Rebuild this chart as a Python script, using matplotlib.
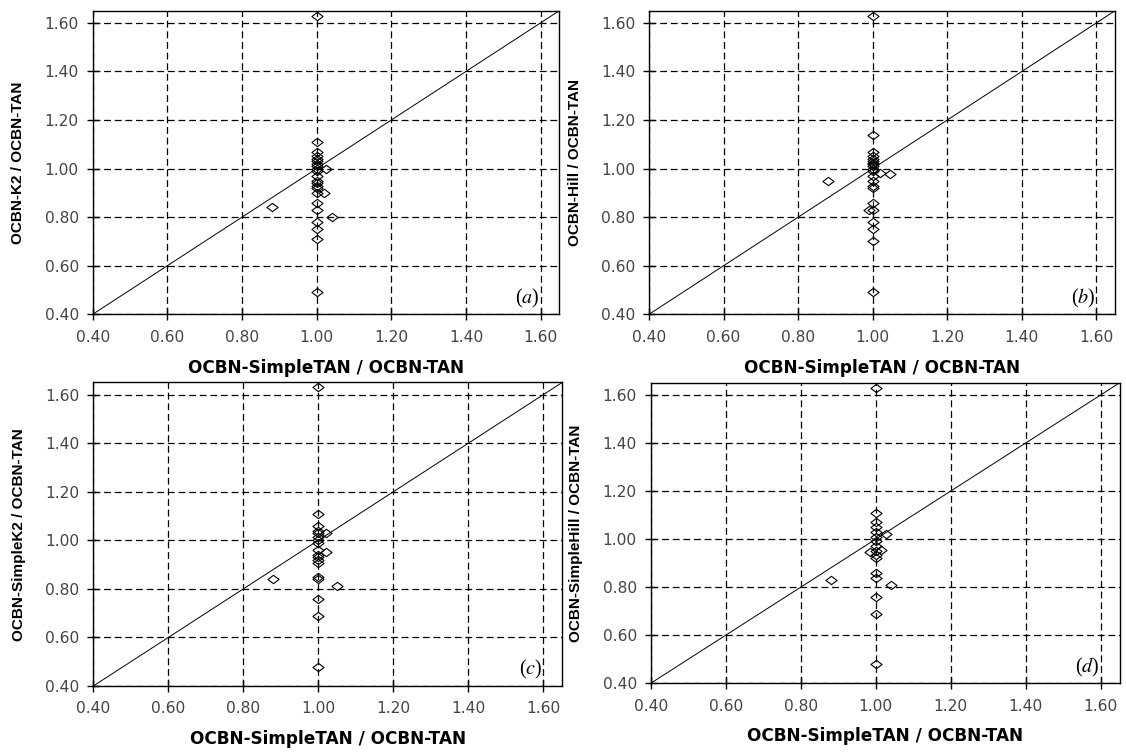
import matplotlib
matplotlib.use("Agg")
import matplotlib.pyplot as plt
from matplotlib.path import Path

plt.rcParams['font.family'] = ['DejaVu Sans']
plt.rcParams['mathtext.fontset'] = 'stix'

# ratio data (x = OCBN-SimpleTAN / OCBN-TAN)
xa = [1.0] * 22 + [0.88, 1.04, 1.025, 1.02]
ya = [1.63, 1.11, 1.07, 1.05, 1.04, 1.03, 1.02, 1.01, 1.00, 0.99, 0.97, 0.95,
      0.94, 0.93, 0.92, 0.90, 0.86, 0.83, 0.78, 0.75, 0.71, 0.49,
      0.84, 0.80, 1.00, 0.90]

xb = [1.0] * 21 + [0.88, 1.047, 1.02, 0.99]
yb = [1.63, 1.14, 1.07, 1.05, 1.04, 1.03, 1.025, 1.02, 1.01, 1.00, 0.99, 0.97,
      0.95, 0.93, 0.92, 0.86, 0.83, 0.78, 0.75, 0.70, 0.49,
      0.95, 0.976, 0.98, 0.83]

xc = [1.0] * 18 + [0.88, 1.05, 1.02, 1.02]
yc = [1.63, 1.11, 1.06, 1.04, 1.03, 1.015, 1.00, 0.99, 0.96, 0.94, 0.93, 0.92,
      0.905, 0.85, 0.84, 0.76, 0.69, 0.48,
      0.84, 0.81, 1.03, 0.95]

xd = [1.0] * 16 + [0.88, 1.04, 1.027, 0.985, 1.015]
yd = [1.63, 1.11, 1.07, 1.05, 1.03, 1.01, 0.99, 0.97, 0.95, 0.935, 0.92, 0.86,
      0.84, 0.76, 0.69, 0.48,
      0.83, 0.81, 1.02, 0.945, 0.955]

ylabels = ['OCBN-K2 / OCBN-TAN', 'OCBN-Hill / OCBN-TAN',
           'OCBN-SimpleK2 / OCBN-TAN', 'OCBN-SimpleHill / OCBN-TAN']
xlabel = 'OCBN-SimpleTAN / OCBN-TAN'
letters = ['a', 'b', 'c', 'd']
ticks = [0.40, 0.60, 0.80, 1.00, 1.20, 1.40, 1.60]

# wide open diamond
diamond = Path([(-1, 0), (0, 0.75), (1, 0), (0, -0.75), (-1, 0)],
               [Path.MOVETO, Path.LINETO, Path.LINETO, Path.LINETO, Path.CLOSEPOLY])

fig = plt.figure(figsize=(11.26, 7.55), dpi=100)
positions = [[0.0823, 0.5837, 0.4144, 0.4021],
             [0.5764, 0.5837, 0.4139, 0.4021],
             [0.0829, 0.0914, 0.4163, 0.4020],
             [0.5779, 0.0950, 0.4165, 0.3980]]
data = [(xa, ya), (xb, yb), (xc, yc), (xd, yd)]

for i, pos in enumerate(positions):
    ax = fig.add_axes(pos)
    x, y = data[i]
    lo, hi = 0.40, 1.65
    ax.plot([lo, hi], [lo, hi], color='black', lw=0.7, zorder=2)
    ax.plot(x, y, linestyle='none', marker=diamond, markersize=8,
            markerfacecolor='none', markeredgecolor='black', markeredgewidth=0.8, zorder=3)
    ax.set_xlim(lo, hi)
    ax.set_ylim(lo, hi)
    ax.set_xticks(ticks)
    ax.set_yticks(ticks)
    ax.set_xticklabels(['%.2f' % t for t in ticks])
    ax.set_yticklabels(['%.2f' % t for t in ticks])
    ax.grid(True, color='black', linestyle=(0, (5.5, 3)), linewidth=0.9)
    ax.tick_params(direction='inout', length=8, width=1, labelsize=11.2,
                   labelcolor='#454545')
    ax.tick_params(axis='x', pad=7)
    ax.tick_params(axis='y', pad=6)
    for s in ax.spines.values():
        s.set_linewidth(1.0)
    ax.set_xlabel(xlabel, fontsize=12.2, fontweight='bold')
    ax.set_ylabel(ylabels[i], fontsize=11, fontweight='bold', family='Liberation Sans')
    ax.xaxis.set_label_coords(0.5, -0.176)
    ax.xaxis.label.set_va('center')
    ax.yaxis.set_label_coords(-0.159, 0.5)
    ax.yaxis.label.set_va('center')
    ax.text(0.957, 0.015, '(' + r'$\mathit{' + letters[i] + '}$' + ')',
            transform=ax.transAxes, ha='right', va='bottom', fontsize=14.5,
            family='Liberation Serif')

fig.savefig('out.png', dpi=100)
